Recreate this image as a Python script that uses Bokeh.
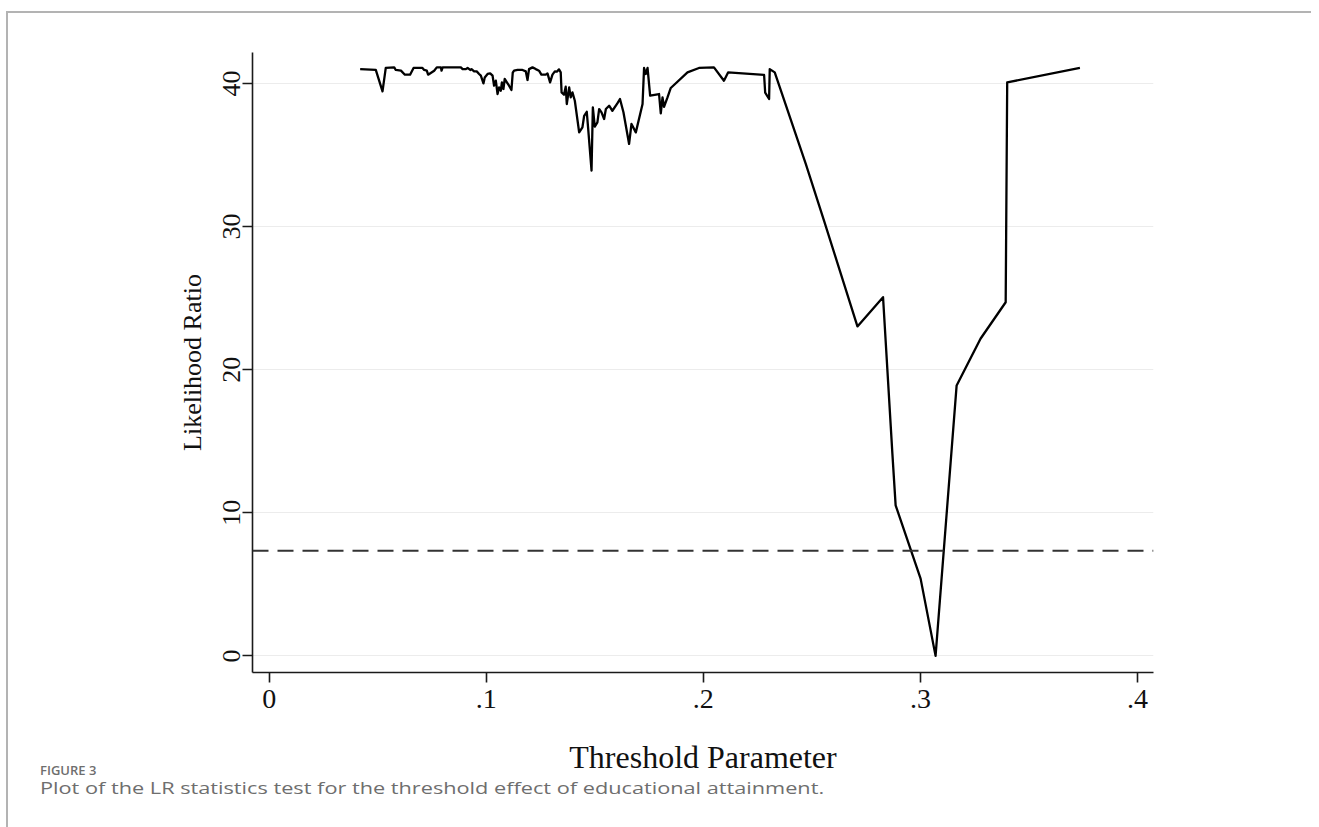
from bokeh.plotting import figure
from bokeh.models import Range1d, FixedTicker, Span, CustomJSTickFormatter, Div, Spacer
from bokeh.layouts import column
from bokeh.embed import file_html
from bokeh.resources import INLINE

# ---- data ----
threshold = [
    0.0419, 0.0491, 0.0522, 0.0537, 0.0576, 0.0583, 0.0607, 0.0625, 0.0649, 0.0665,
    0.0706, 0.0714, 0.0726, 0.0732, 0.0760, 0.0772, 0.0791, 0.0794, 0.0799, 0.0883,
    0.0891, 0.0906, 0.0914, 0.0926, 0.0932, 0.0944, 0.0956, 0.0967, 0.0975, 0.0987,
    0.0993, 0.1006, 0.1018, 0.1029, 0.1036, 0.1044, 0.1052, 0.1059, 0.1067, 0.1072,
    0.1079, 0.1085, 0.1095, 0.1105, 0.1116, 0.1122, 0.1128, 0.1144, 0.1167, 0.1182,
    0.1190, 0.1197, 0.1213, 0.1228, 0.1243, 0.1254, 0.1274, 0.1282, 0.1294, 0.1305,
    0.1316, 0.1325, 0.1335, 0.1343, 0.1347, 0.1358, 0.1366, 0.1371, 0.1382, 0.1389,
    0.1397, 0.1408, 0.1428, 0.1443, 0.1451, 0.1463, 0.1469, 0.1485, 0.1491, 0.1500,
    0.1512, 0.1520, 0.1531, 0.1543, 0.1551, 0.1566, 0.1581, 0.1604, 0.1616, 0.1632,
    0.1658, 0.1669, 0.1689, 0.1720, 0.1727, 0.1735, 0.1743, 0.1755, 0.1796, 0.1804,
    0.1812, 0.1819, 0.1835, 0.1850, 0.1927, 0.1980, 0.2049, 0.2095, 0.2114, 0.2280,
    0.2285, 0.2303, 0.2306, 0.2329, 0.2472, 0.2556, 0.2710, 0.2828, 0.2871, 0.2886,
    0.3001, 0.3070, 0.3167, 0.3277, 0.3393, 0.3400, 0.3735,
]
lr_stat = [
    41.00, 40.94, 39.44, 41.08, 41.12, 40.94, 40.89, 40.61, 40.61, 41.08,
    41.08, 40.94, 40.89, 40.61, 40.89, 41.12, 41.12, 40.89, 41.12, 41.12,
    41.00, 41.00, 41.08, 40.94, 41.00, 40.84, 40.84, 40.66, 40.54, 40.00,
    40.42, 40.66, 40.70, 40.54, 39.84, 40.19, 39.26, 39.72, 39.49, 40.07,
    39.61, 40.31, 40.07, 39.84, 39.54, 40.75, 40.89, 40.94, 40.94, 40.84,
    40.24, 41.00, 41.12, 41.00, 40.89, 40.61, 40.61, 40.70, 40.07, 40.61,
    40.84, 40.82, 40.98, 40.77, 39.37, 39.21, 39.77, 38.56, 39.72, 39.02,
    39.37, 38.79, 36.58, 36.93, 37.74, 38.02, 36.93, 33.91, 38.32, 36.98,
    37.28, 38.21, 37.98, 37.51, 38.21, 38.44, 38.09, 38.60, 38.91, 37.98,
    35.77, 37.17, 36.58, 38.56, 41.08, 40.66, 41.08, 39.14, 39.26, 37.91,
    39.02, 38.37, 39.02, 39.68, 40.77, 41.08, 41.12, 40.19, 40.77, 40.59,
    39.35, 38.91, 41.00, 40.77, 34.37, 30.42, 23.02, 25.06, 14.13, 10.52,
    5.40, 0.00, 18.90, 22.16, 24.71, 40.07, 41.08,
]
critical_value = 7.35

x_ticks = [0, 0.1, 0.2, 0.3, 0.4]
y_ticks = [0, 10, 20, 30, 40]
x_label = "Threshold Parameter"
y_label = "Likelihood Ratio"
fig_number = "FIGURE 3"
caption = "Plot of the LR statistics test for the threshold effect of educational attainment."

SERIF = "Liberation Serif"

p = figure(
    width=1303, height=784,
    x_range=Range1d(-0.0077, 0.4074), y_range=Range1d(-1.16, 42.16),
    output_backend="svg", toolbar_location=None,
    min_border_left=244, min_border_right=158, min_border_top=39, min_border_bottom=125,
)
p.margin = 0
p.outline_line_color = None
p.background_fill_color = "white"
p.border_fill_color = "white"

p.xgrid.visible = False
p.ygrid.ticker = FixedTicker(ticks=y_ticks)
p.ygrid.grid_line_color = "#ececec"
p.ygrid.grid_line_width = 1.2

for ax in (p.xaxis[0], p.yaxis[0]):
    ax.axis_line_color = "#1a1a1a"
    ax.axis_line_width = 1.6
    ax.major_tick_line_color = "#1a1a1a"
    ax.major_tick_line_width = 1.6
    ax.major_tick_in = 0
    ax.major_tick_out = 10
    ax.minor_tick_line_color = None
    ax.major_label_text_font = SERIF
    ax.major_label_text_color = "#111111"
    ax.axis_label_text_font = SERIF
    ax.axis_label_text_font_style = "normal"
    ax.axis_label_text_color = "#111111"

p.xaxis.ticker = FixedTicker(ticks=x_ticks)
p.xaxis.formatter = CustomJSTickFormatter(
    code="return tick == 0 ? '0' : tick.toFixed(1).replace(/^0/, '');")
p.xaxis.major_label_text_font_size = "28px"
p.xaxis.major_label_standoff = 7
p.xaxis.axis_label = x_label
p.xaxis.axis_label_text_font_size = "32px"
p.xaxis.axis_label_standoff = 28

p.yaxis.ticker = FixedTicker(ticks=y_ticks)
p.yaxis.major_label_orientation = "vertical"
p.yaxis.major_label_text_font_size = "26px"
p.yaxis.major_label_standoff = 2
p.yaxis.axis_label = y_label
p.yaxis.axis_label_text_font_size = "26px"
p.yaxis.axis_label_standoff = 14

p.line(threshold, lr_stat, line_color="black", line_width=2.3, line_join="round")
p.add_layout(Span(location=critical_value, dimension="width", line_color="#333333",
                  line_width=2, line_dash="16 9"))

fig_div = Div(
    text=fig_number, width=400, height=14, margin=(-34, 0, 0, 32),
    styles={"font-family": "'Open Sans'", "font-size": "13px", "font-weight": "600",
            "color": "#6e6e6e", "line-height": "14px", "white-space": "nowrap"},
)
cap_div = Div(
    text=caption, width=1100, height=18, margin=(2, 0, 0, 32),
    styles={"font-family": "'Open Sans'", "font-size": "15.5px", "font-weight": "400",
            "color": "#6e6e6e", "line-height": "18px", "white-space": "nowrap",
            "transform": "scaleX(1.40)", "transform-origin": "0 50%"},
)

layout = column(p, fig_div, cap_div, Spacer(height=40), spacing=0)
layout.margin = (11, 0, 0, 6)
layout.styles = {"border-top": "2px solid #b3b3b3", "border-left": "2px solid #b3b3b3"}

open("out.html", "w").write(file_html(layout, INLINE))
